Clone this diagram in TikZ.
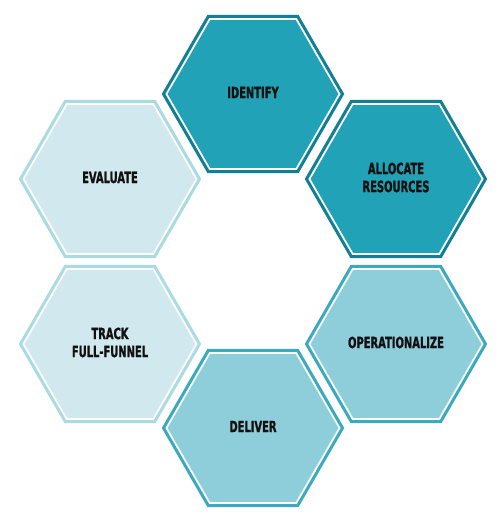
\documentclass[tikz,border=0pt]{standalone}
\usepackage{fontspec}
\usetikzlibrary{shapes.geometric}
\newfontfamily\hexfont[FakeStretch=0.64,FakeBold=1.2]{DejaVu Sans Bold}
\definecolor{darkfill}{HTML}{21A2B6}
\definecolor{darkline}{HTML}{137F94}
\definecolor{midfill}{HTML}{8ECEDB}
\definecolor{midline}{HTML}{3CAABE}
\definecolor{lightfill}{HTML}{D0E8EE}
\definecolor{lightline}{HTML}{AADAE2}
\definecolor{txt}{HTML}{111111}
\tikzset{
  hexouter/.style={regular polygon, regular polygon sides=6, inner sep=0pt, outer sep=0pt,
    minimum size=179pt, line width=3pt, fill=white},
  hexinner/.style={regular polygon, regular polygon sides=6, inner sep=0pt, outer sep=0pt,
    minimum size=170.8pt},
  hexlabel/.style={inner sep=0pt, text=txt, align=center,
    font=\hexfont\fontsize{15.5}{18}\selectfont},
}
\begin{document}
\begin{tikzpicture}[x=1pt,y=-1pt]
\useasboundingbox (0,0) rectangle (500,516);
% outer rings
\node[hexouter, draw=darkline] (o1) at (253,94) {};
\node[hexouter, draw=darkline] (o2) at (396,179) {};
\node[hexouter, draw=midline] (o3) at (396,344) {};
\node[hexouter, draw=midline] (o4) at (253,428) {};
\node[hexouter, draw=lightline] (o5) at (110,344) {};
\node[hexouter, draw=lightline] (o6) at (110,179) {};
% inner fills
\node[hexinner, fill=darkfill] (i1) at (o1.center) {};
\node[hexinner, fill=darkfill] (i2) at (o2.center) {};
\node[hexinner, fill=midfill] (i3) at (o3.center) {};
\node[hexinner, fill=midfill] (i4) at (o4.center) {};
\node[hexinner, fill=lightfill] (i5) at (o5.center) {};
\node[hexinner, fill=lightfill] (i6) at (o6.center) {};
% labels
\node[hexlabel] (identify) at ([yshift=1.5pt]i1.center) {IDENTIFY};
\node[hexlabel] (allocate) at ([yshift=1.5pt]i2.center) {ALLOCATE\\RESOURCES};
\node[hexlabel] (oper) at ([yshift=1.5pt]i3.center) {OPERATIONALIZE};
\node[hexlabel] (deliver) at ([yshift=1.5pt]i4.center) {DELIVER};
\node[hexlabel] (track) at ([yshift=1.5pt]i5.center) {TRACK\\FULL-FUNNEL};
\node[hexlabel] (evaluate) at ([yshift=1.5pt]i6.center) {EVALUATE};
\end{tikzpicture}
\end{document}
